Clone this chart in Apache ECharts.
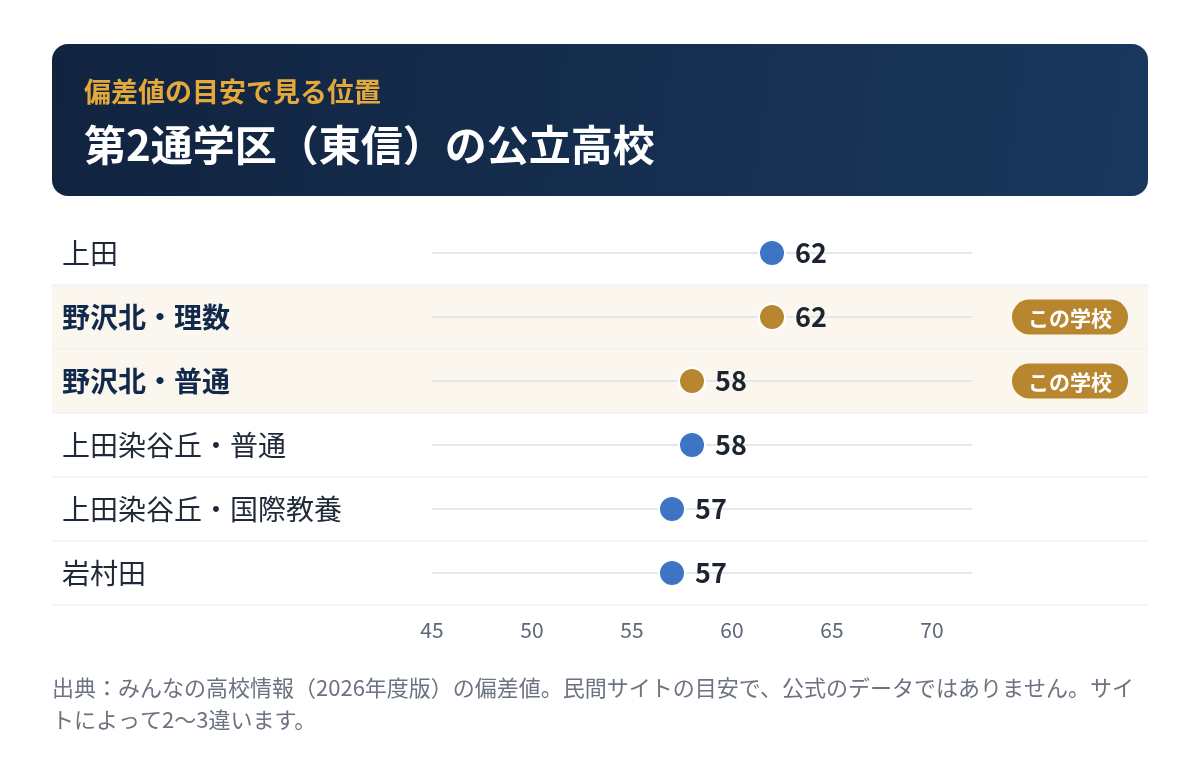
<!DOCTYPE html>
<html>
<head>
<meta charset="utf-8">
<script src="https://cdn.jsdelivr.net/npm/echarts@6/dist/echarts.min.js"></script>
<style>
  html, body { margin: 0; padding: 0; background: #fff; }
  #chart { width: 1200px; height: 772px; }
</style>
</head>
<body>
<div id="chart"></div>
<script>
// 学校名（上から順）
const schools = ['上田', '野沢北・理数', '野沢北・普通', '上田染谷丘・普通', '上田染谷丘・国際教養', '岩村田']
// 偏差値
const scores = [62, 62, 58, 58, 57, 57]
// 「この学校」フラグ
const isThisSchool = [false, true, true, false, false, false]
// 目盛り
const axisMin = 45
const axisMax = 72
const tickStep = 5

const FONT = '"Noto Sans CJK JP", "Noto Sans", sans-serif'
const BLUE = '#3d75c4'
const GOLD = '#b8862e'
const NAVY = '#13294b'

const gridLeft = 432, gridRight = 228, gridTop = 221, gridBottom = 167
const rowH = (772 - gridTop - gridBottom) / schools.length

const chart = echarts.init(document.getElementById('chart'))

// 行の背景・区切り線・バッジ
const rowGraphics = []
schools.forEach((name, i) => {
  const y = gridTop + i * rowH
  if (isThisSchool[i]) {
    rowGraphics.push({
      type: 'rect', z: -10, silent: true,
      shape: { x: 52, y: y, width: 1096, height: rowH },
      style: { fill: '#fbf7ee' }
    })
    rowGraphics.push({
      type: 'rect', z: 10,
      shape: { x: 1012, y: y + rowH / 2 - 17.5, width: 116, height: 35, r: 17.5 },
      style: { fill: GOLD }
    })
    rowGraphics.push({
      type: 'text', z: 11,
      x: 1070, y: y + rowH / 2 + 1,
      style: {
        text: 'この学校', fill: '#fff', font: 'bold 21px ' + FONT,
        align: 'center', verticalAlign: 'middle'
      }
    })
  }
  rowGraphics.push({
    type: 'rect', z: -5, silent: true,
    shape: { x: 52, y: y + rowH - 0.5, width: 1096, height: 1 },
    style: { fill: '#eeeeee' }
  })
})

chart.setOption({
  animation: false,
  textStyle: { fontFamily: FONT },
  grid: { left: gridLeft, right: gridRight, top: gridTop, bottom: gridBottom },
  graphic: [
    {
      type: 'rect', z: -20,
      shape: { x: 52, y: 44, width: 1096, height: 152, r: 16 },
      style: {
        fill: new echarts.graphic.LinearGradient(0, 0, 1, 1, [
          { offset: 0, color: '#11233f' },
          { offset: 1, color: '#19385d' }
        ])
      }
    },
    {
      type: 'text', x: 84, y: 92,
      style: { text: '偏差値の目安で見る位置', fill: '#e3a93b', font: 'bold 27px ' + FONT, verticalAlign: 'middle' }
    },
    {
      type: 'text', x: 84, y: 145,
      style: { text: '第2通学区（東信）の公立高校', fill: '#ffffff', font: 'bold 42px ' + FONT, verticalAlign: 'middle' }
    },
    {
      type: 'text', x: 52, y: 672,
      style: {
        text: '出典：みんなの高校情報（2026年度版）の偏差値。民間サイトの目安で、公式のデータではありません。サイ\nトによって2〜3違います。',
        fill: '#6b7280', font: '22px ' + FONT, lineHeight: 32
      }
    },
    ...rowGraphics
  ],
  xAxis: {
    type: 'value',
    min: axisMin,
    max: axisMax,
    interval: tickStep,
    splitLine: { show: false },
    axisLine: { show: false },
    axisTick: { show: false },
    axisLabel: {
      color: '#5f6878', fontSize: 21, margin: 15,
      formatter: v => (v % tickStep === 0 ? String(v) : '')
    }
  },
  yAxis: {
    type: 'category',
    inverse: true,
    data: schools,
    axisLine: { show: false },
    axisTick: { show: false },
    splitLine: { show: false },
    axisLabel: {
      align: 'left',
      margin: gridLeft - 62,
      formatter: (v, i) => (isThisSchool[i] ? '{b|' + v + '}' : '{n|' + v + '}'),
      rich: {
        n: { fontSize: 28, color: '#1f2937', fontFamily: FONT },
        b: { fontSize: 28, color: NAVY, fontWeight: 'bold', fontFamily: FONT }
      }
    }
  },
  series: [
    {
      // 目盛りの帯（45〜上限）
      type: 'bar',
      silent: true,
      barWidth: 2,
      data: schools.map(() => axisMax),
      itemStyle: { color: '#e5e7eb' },
      z: 1
    },
    {
      type: 'scatter',
      symbolSize: 26,
      data: scores.map((v, i) => ({
        value: v,
        itemStyle: { color: isThisSchool[i] ? GOLD : BLUE }
      })),
      itemStyle: { borderColor: '#ffffff', borderWidth: 2, opacity: 1 },
      label: {
        show: true,
        position: 'right',
        distance: 9,
        color: '#1c2430',
        fontSize: 27,
        fontWeight: 'bold',
        fontFamily: FONT
      },
      z: 5
    }
  ]
})
</script>
</body>
</html>
